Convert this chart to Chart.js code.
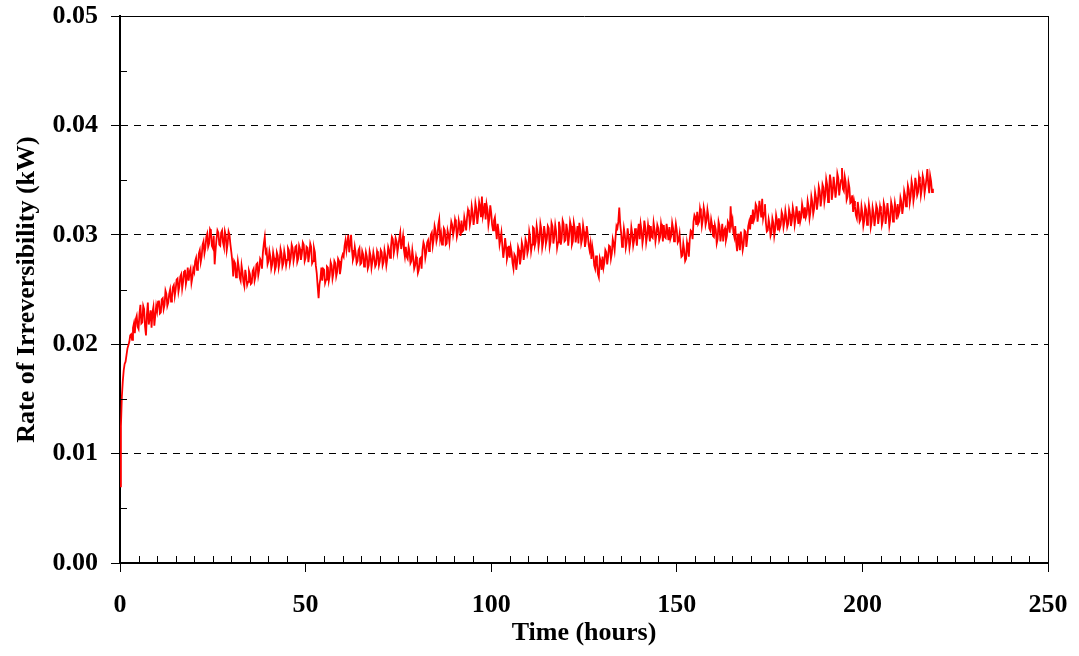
<!DOCTYPE html>
<html>
<head>
<meta charset="utf-8">
<script src="https://cdn.jsdelivr.net/npm/chart.js@4/dist/chart.umd.min.js"></script>
<style>
  html, body { margin: 0; padding: 0; background: #ffffff; }
  #wrap { width: 1079px; height: 656px; position: relative; }
</style>
</head>
<body>
<div id="wrap"><canvas id="c" width="1079" height="656"></canvas></div>
<script>
// ---- Data ----
const X_TITLE = 'Time (hours)';
const Y_TITLE = 'Rate of Irreversibility (kW)';
const X_MIN = 0, X_MAX = 250, X_MAJOR = 50, X_MINOR = 5;
const Y_MIN = 0, Y_MAX = 0.05, Y_MAJOR = 0.01, Y_MINOR = 0.005;

// sampling interval of the logged series (hours)
const TIME_START = 0;
const TIME_STEP = 0.5;

// rate of irreversibility (W), read every 0.5 h from t = 0 to t = 219 h
const rateWatts = [
  7.0, 15.2, 17.6, 18.4, 19.6, 20.2, 20.9, 21.5, 21.0, 22.6,
  21.4, 23.6, 22.0, 23.2, 20.8, 23.8, 22.4, 21.5, 23.4, 22.6,
  23.0, 24.0, 22.9, 24.2, 23.6, 24.6, 23.8, 25.0, 24.3, 25.4,
  25.0, 26.0, 25.3, 26.4, 25.7, 26.8, 26.0, 25.8, 26.9, 26.1,
  26.6, 27.9, 27.2, 28.6, 28.0, 29.4, 28.8, 30.1, 29.2, 30.3,
  28.8, 27.3, 29.6, 30.2, 29.0, 30.4, 28.9, 29.9, 29.2, 30.0,
  28.4, 26.2, 27.4, 26.5, 27.0, 25.8, 26.6, 25.3, 26.2, 25.7,
  26.4, 25.6, 26.9, 26.2, 27.4, 26.8, 27.6, 28.4, 29.8, 28.6,
  27.6, 28.0, 27.3, 27.9, 27.1, 28.1, 27.5, 28.3, 27.4, 28.0,
  27.7, 28.6, 27.9, 28.8, 28.1, 29.0, 27.8, 28.7, 28.3, 29.1,
  27.9, 28.8, 28.2, 28.9, 27.6, 28.4, 26.5, 24.2, 26.0, 25.8,
  26.8, 25.9, 27.0, 26.3, 27.2, 26.5, 27.4, 26.6, 27.6, 27.0,
  28.2, 29.0, 28.6, 30.0, 29.2, 28.6, 28.0, 28.3, 27.6, 28.8,
  27.4, 28.2, 27.5, 28.0, 27.2, 28.1, 27.6, 27.9, 27.3, 28.2,
  27.6, 28.4, 27.5, 28.1, 27.8, 28.6, 28.9, 29.6, 28.8, 29.4,
  29.0, 30.2, 29.3, 28.6, 28.9, 27.8, 28.5, 27.6, 27.9, 27.2,
  27.5, 26.8, 27.9, 28.6, 29.0, 28.4, 29.5, 29.0, 30.2, 29.6,
  30.4, 29.8, 31.4, 30.1, 29.3, 30.4, 29.2, 30.0, 30.3, 30.9,
  30.5, 31.0, 30.2, 30.8, 31.3, 30.4, 31.1, 31.6, 32.0, 31.4,
  32.0, 31.6, 32.4, 31.8, 32.6, 33.5, 32.2, 31.4, 32.3, 31.5,
  32.0, 30.4, 31.6, 29.6, 30.3, 29.6, 29.0, 28.6, 28.9, 28.2,
  27.9, 28.4, 26.9, 28.0, 27.5, 28.6, 27.9, 28.9, 28.4, 29.3,
  28.7, 29.8, 29.1, 30.6, 29.4, 30.2, 29.5, 30.5, 29.3, 30.1,
  29.6, 30.6, 29.4, 30.8, 29.8, 30.3, 29.3, 30.7, 29.7, 31.0,
  29.5, 30.4, 29.9, 30.8, 29.4, 30.6, 30.0, 29.2, 30.5, 29.6,
  30.3, 29.4, 30.1, 28.6, 27.8, 28.3, 26.9, 27.4, 26.1, 27.6,
  28.0, 27.5, 28.4, 28.0, 28.9, 28.3, 29.2, 29.8, 30.6, 32.5,
  30.2, 29.4, 30.0, 29.3, 29.9, 29.4, 30.1, 29.5, 29.8, 30.3,
  29.6, 30.4, 29.8, 30.7, 29.9, 30.2, 30.8, 29.7, 30.5, 30.0,
  30.6, 29.8, 30.4, 30.9, 29.7, 30.3, 30.7, 29.9, 30.6, 30.1,
  30.4, 29.5, 28.9, 28.1, 28.6, 27.8, 28.8, 29.6, 30.3, 31.2,
  31.6, 32.1, 31.2, 31.9, 31.4, 32.0, 31.3, 31.7, 30.4, 30.9,
  29.8, 30.5, 29.6, 30.8, 30.1, 29.4, 30.6, 29.9, 31.0, 32.6,
  31.4, 29.8, 29.3, 30.1, 28.6, 29.6, 29.1, 30.3, 29.7, 31.2,
  31.8, 32.3, 31.6, 32.6, 31.9, 32.4, 33.3, 32.0, 31.1, 30.4,
  30.9, 30.2, 31.1, 30.5, 31.3, 31.5, 30.9, 31.8, 31.2, 31.6,
  31.0, 31.9, 31.3, 32.0, 31.5, 31.8, 32.2, 31.6, 32.3, 32.5,
  31.9, 32.6, 32.1, 33.0, 32.4, 33.4, 33.0, 34.0, 33.3, 34.3,
  33.6, 34.6, 33.8, 34.9, 33.9, 34.5, 34.1, 35.2, 34.4, 36.1,
  34.0, 34.8, 33.5, 34.3, 33.0, 32.1, 32.6, 31.5, 32.3, 31.4,
  32.0, 31.3, 32.3, 31.6, 32.2, 31.2, 32.0, 31.5, 32.4, 31.7,
  32.1, 31.3, 32.5, 31.8, 32.0, 31.4, 32.6, 31.9, 32.3, 32.8,
  32.2, 33.0, 32.6, 33.6, 33.2, 34.1, 33.5, 34.4, 33.7, 34.6,
  33.9, 34.8, 34.2, 35.0, 34.4, 36.0, 33.8, 34.9, 34.2
];

// in-between readings (W), each taken a quarter hour after the matching value above
const rateWattsMid = [
  12.5, 16.6, 18.2, 19.0, 19.9, 20.8, 20.4, 21.9, 22.3, 21.6,
  22.8, 21.9, 23.5, 21.6, 22.7, 21.8, 23.1, 22.9, 21.7, 23.5,
  23.9, 22.8, 24.1, 23.2, 24.9, 23.5, 24.6, 23.9, 25.2, 24.4,
  25.9, 24.8, 26.2, 25.1, 26.6, 25.5, 27.0, 26.6, 25.6, 26.9,
  27.6, 26.8, 28.3, 27.5, 29.1, 28.3, 29.8, 28.9, 30.5, 29.0,
  29.9, 28.6, 30.4, 29.1, 30.2, 29.3, 30.3, 28.6, 30.3, 29.1,
  27.6, 27.6, 26.1, 27.6, 26.1, 27.2, 25.7, 26.8, 25.4, 26.7,
  25.5, 26.7, 25.8, 27.3, 26.3, 27.8, 26.9, 29.2, 28.4, 27.3,
  28.5, 26.9, 28.4, 26.8, 28.4, 27.0, 28.7, 27.1, 28.5, 27.2,
  28.8, 27.4, 29.1, 27.6, 28.9, 27.5, 29.0, 27.7, 29.3, 27.6,
  28.9, 27.5, 29.2, 27.4, 28.8, 27.2, 25.3, 25.5, 27.0, 26.9,
  25.6, 27.1, 25.8, 27.5, 26.0, 27.6, 26.2, 27.8, 26.4, 27.9,
  28.0, 29.5, 29.3, 28.4, 30.0, 27.7, 28.9, 27.4, 28.6, 27.3,
  28.5, 27.1, 28.4, 26.9, 28.5, 27.0, 28.4, 27.1, 28.5, 27.2,
  28.6, 27.2, 28.6, 27.2, 28.9, 27.9, 29.8, 28.3, 29.7, 28.4,
  29.7, 28.7, 29.9, 28.0, 28.0, 28.9, 27.4, 28.6, 26.9, 28.0,
  26.5, 27.8, 26.9, 29.3, 27.9, 29.3, 28.5, 30.0, 29.0, 30.8,
  29.4, 30.9, 29.6, 29.1, 30.6, 29.1, 30.4, 29.3, 31.2, 30.0,
  31.4, 29.8, 31.3, 29.9, 30.3, 31.6, 30.4, 32.3, 30.9, 32.6,
  30.9, 32.9, 31.0, 33.0, 31.6, 31.7, 32.9, 32.8, 30.9, 32.7,
  30.9, 31.3, 30.5, 31.0, 29.1, 30.2, 27.9, 29.7, 27.8, 29.0,
  28.9, 27.4, 28.2, 26.8, 28.9, 27.3, 29.3, 27.7, 29.6, 28.3,
  30.3, 28.5, 30.7, 29.0, 30.8, 28.9, 31.0, 28.8, 30.8, 29.2,
  30.8, 28.9, 31.1, 29.2, 30.9, 28.8, 31.2, 29.1, 31.3, 29.4,
  31.0, 29.0, 31.2, 29.1, 31.1, 29.3, 30.8, 31.1, 29.2, 30.9,
  28.9, 30.8, 29.1, 29.2, 28.9, 27.2, 28.1, 26.4, 27.9, 26.8,
  27.0, 28.6, 27.3, 29.0, 27.8, 29.6, 28.6, 30.8, 31.2, 31.0,
  28.9, 30.6, 28.8, 30.6, 28.8, 30.7, 29.0, 30.6, 29.0, 31.0,
  31.0, 29.2, 31.3, 29.3, 30.9, 29.4, 29.8, 31.1, 29.4, 30.9,
  29.5, 31.0, 29.4, 29.8, 31.0, 29.5, 29.6, 31.1, 29.4, 31.0,
  29.3, 30.1, 28.0, 29.2, 27.6, 29.3, 28.0, 30.4, 29.6, 31.8,
  30.9, 31.0, 32.4, 30.8, 32.5, 30.9, 32.3, 30.6, 31.4, 29.9,
  30.9, 29.2, 31.2, 29.4, 31.0, 30.4, 29.5, 31.2, 30.2, 31.0,
  30.2, 30.8, 28.5, 29.3, 30.3, 28.6, 30.4, 28.9, 30.8, 30.5,
  31.0, 31.3, 32.8, 31.2, 33.1, 31.6, 31.5, 32.8, 30.3, 31.4,
  29.9, 31.5, 29.9, 31.8, 30.4, 30.6, 32.1, 30.7, 32.2, 30.7,
  32.3, 30.8, 32.5, 30.9, 32.6, 31.0, 31.2, 32.8, 31.5, 31.6,
  33.1, 31.5, 33.5, 31.9, 33.9, 32.3, 34.4, 32.6, 34.6, 33.0,
  35.1, 33.0, 35.5, 33.2, 35.3, 33.4, 35.6, 33.6, 35.0, 34.2,
  35.3, 33.2, 34.8, 32.9, 33.6, 33.1, 31.8, 33.0, 31.2, 32.6,
  30.8, 32.6, 30.9, 32.8, 30.7, 32.5, 30.8, 32.7, 31.0, 32.6,
  30.9, 32.9, 31.0, 32.9, 30.8, 33.0, 31.2, 32.9, 31.4, 31.9,
  33.4, 31.9, 34.0, 32.6, 34.5, 32.9, 34.9, 33.1, 35.2, 33.6,
  35.3, 33.6, 35.4, 33.8, 35.1, 34.6, 35.4, 33.9
];

// ---- build the points for the library (W -> kW), in time order ----
const points = [];
rateWatts.forEach((w, i) => {
  const t = TIME_START + i * TIME_STEP;
  points.push({ x: t, y: w / 1000 });
  if (i < rateWattsMid.length) points.push({ x: t + TIME_STEP / 2, y: rateWattsMid[i] / 1000 });
});

const FONT = '"Liberation Serif", "Times New Roman", serif';
const near = (a, b) => Math.abs(a - b) < 1e-9;

// minor tick marks drawn inward, positioned through the chart's scales
const minorTicks = {
  id: 'minorTicks',
  afterDraw(chart) {
    const { ctx, scales: { x, y } } = chart;
    ctx.save();
    ctx.strokeStyle = '#000';
    ctx.lineWidth = 1;
    ctx.beginPath();
    for (let k = 1; k < Math.round((X_MAX - X_MIN) / X_MINOR); k++) {
      const v = X_MIN + k * X_MINOR;
      if (k % Math.round(X_MAJOR / X_MINOR) === 0) continue;
      const px = Math.round(x.getPixelForValue(v)) + 0.5;
      ctx.moveTo(px, y.bottom);
      ctx.lineTo(px, y.bottom - 7);
    }
    for (let k = 1; k < Math.round((Y_MAX - Y_MIN) / Y_MINOR); k += 2) {
      const v = Y_MIN + k * Y_MINOR;
      const py = Math.round(y.getPixelForValue(v)) + 0.5;
      ctx.moveTo(x.left, py);
      ctx.lineTo(x.left + 7, py);
    }
    ctx.stroke();
    ctx.restore();
  }
};

new Chart(document.getElementById('c'), {
  type: 'line',
  data: {
    datasets: [{
      data: points,
      borderColor: '#ff0000',
      borderWidth: 1.8,
      pointRadius: 0,
      tension: 0,
      fill: false
    }]
  },
  options: {
    responsive: false,
    animation: false,
    events: [],
    layout: { padding: { left: 0, top: 16, right: 31, bottom: 0 } },
    plugins: { legend: { display: false }, tooltip: { enabled: false } },
    scales: {
      x: {
        type: 'linear',
        min: X_MIN, max: X_MAX,
        afterFit(scale) {
          scale.height = 93;
          scale.paddingLeft = 0; scale.paddingRight = 0;
        },
        ticks: {
          stepSize: X_MAJOR,
          padding: 18,
          color: '#000',
          font: { family: FONT, size: 26, weight: 'bold' },
          maxRotation: 0
        },
        grid: {
          color: (c) => (c.tick && c.tick.value === X_MAX) ? '#000' : 'rgba(0,0,0,0)',
          lineWidth: 1,
          tickColor: '#000',
          tickLength: 9,
          tickWidth: 1
        },
        border: { display: true, color: '#000', width: 2 },
        title: {
          display: true,
          text: X_TITLE,
          color: '#000',
          font: { family: FONT, size: 26, weight: 'bold' },
          padding: { top: 0, bottom: 7 }
        }
      },
      y: {
        type: 'linear',
        min: Y_MIN, max: Y_MAX,
        afterFit(scale) {
          scale.width = 120;
          scale.paddingTop = 0; scale.paddingBottom = 0;
        },
        ticks: {
          stepSize: Y_MAJOR,
          padding: 13,
          color: '#000',
          font: { family: FONT, size: 26, weight: 'bold' },
          callback: (v) => Number(v).toFixed(2)
        },
        grid: {
          color: (c) => {
            if (!c.tick) return 'rgba(0,0,0,0)';
            if (near(c.tick.value, Y_MIN)) return 'rgba(0,0,0,0)';
            return '#000';
          },
          lineWidth: 1,
          tickColor: '#000',
          tickLength: 9,
          tickWidth: 1
        },
        border: {
          display: true, color: '#000', width: 2,
          dash: (c) => (c.tick && near(c.tick.value, Y_MAX)) ? [] : [7, 6]
        },
        title: {
          display: true,
          text: Y_TITLE,
          color: '#000',
          font: { family: FONT, size: 26, weight: 'bold' },
          padding: { top: 12, bottom: 0 }
        }
      }
    }
  },
  plugins: [minorTicks]
});
</script>
</body>
</html>
